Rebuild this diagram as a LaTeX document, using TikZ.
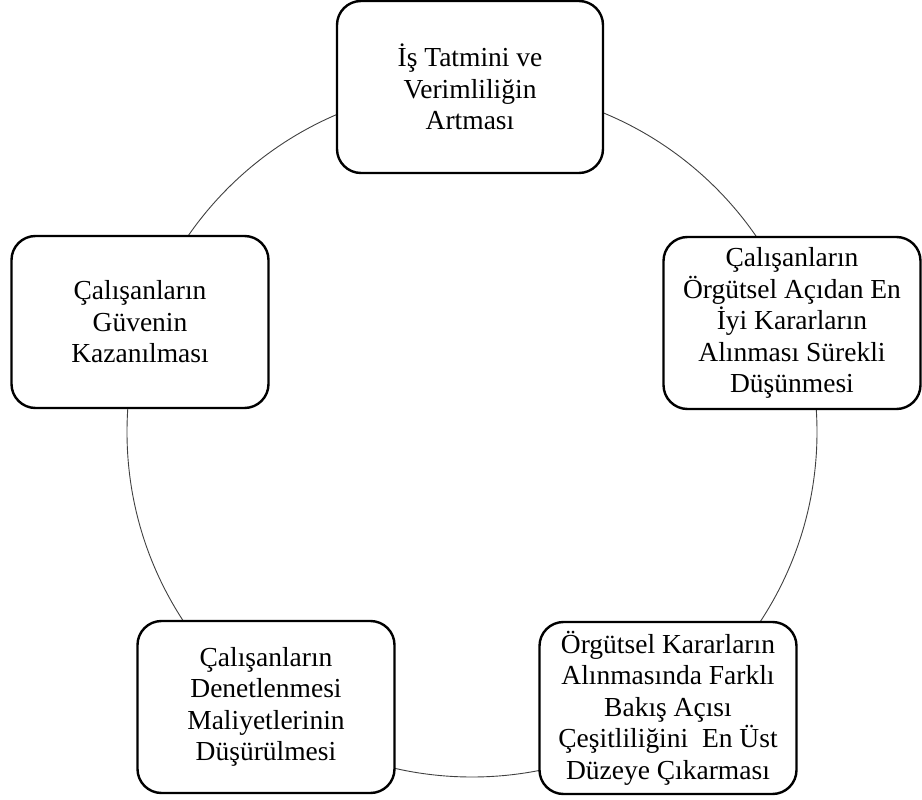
\documentclass[tikz,border=0pt]{standalone}
\usepackage{fontspec}
\setmainfont{Liberation Serif}
\usepackage{tikz}
\usetikzlibrary{positioning}
\tikzset{
  mybox/.style={
    draw,
    fill=white,
    rounded corners=24pt,
    line width=2.4pt,
    align=center,
    minimum width=257pt,
    minimum height=172pt,
    inner sep=2pt,
    font=\fontsize{27.5}{31.5}\selectfont
  },
  ring/.style={draw=black!75, line width=0.9pt}
}

\begin{document}
\begin{tikzpicture}[x=1pt, y=-1pt]
\useasboundingbox (0,0) rectangle (922,800);

% Ring behind the boxes
\coordinate (center) at (472,432);
\draw[ring] (center) circle[radius=345pt];

% Boxes on the ring
\node[mybox, minimum width=266pt] (top) at (470,87) {İş Tatmini ve\\Verimliliğin\\Artması};
\node[mybox] (right) at (792,323) {Çalışanların\\Örgütsel Açıdan En\\İyi Kararların\\Alınması Sürekli\\Düşünmesi};
\node[mybox] (botright) at (668,708) {Örgütsel Kararların\\Alınmasında Farklı\\Bakış Açısı\\Çeşitliliğini~ En Üst\\Düzeye Çıkarması};
\node[mybox] (botleft) at (266,707) {Çalışanların\\Denetlenmesi\\Maliyetlerinin\\Düşürülmesi};
\node[mybox] (left) at (140,322) {Çalışanların\\Güvenin\\Kazanılması};

\end{tikzpicture}
\end{document}
